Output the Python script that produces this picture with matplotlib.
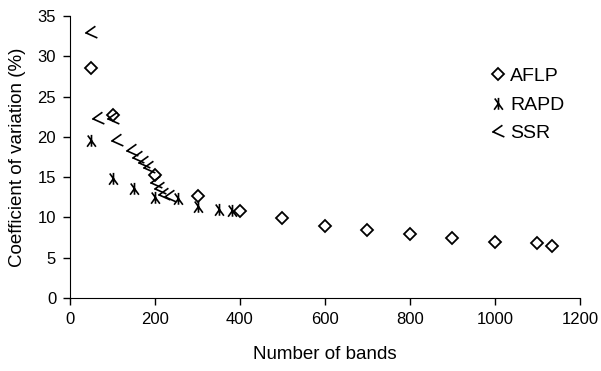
import matplotlib
matplotlib.use("Agg")
import matplotlib.pyplot as plt
from matplotlib.path import Path

plt.rcParams['font.family'] = ['Liberation Sans', 'DejaVu Sans']

# data
aflp_x = [50, 100, 200, 300, 400, 500, 600, 700, 800, 900, 1000, 1100, 1135]
aflp_y = [28.6, 22.7, 15.2, 12.7, 10.8, 9.9, 8.9, 8.4, 7.9, 7.4, 6.9, 6.8, 6.4]

rapd_x = [50, 100, 150, 200, 255, 300, 350, 380]
rapd_y = [19.6, 14.9, 13.7, 12.5, 12.4, 11.4, 11.0, 10.9]

ssr_x = [50, 65, 100, 110, 145, 160, 173, 185, 203, 212, 220, 235]
ssr_y = [33.0, 22.3, 22.3, 19.6, 18.3, 17.5, 16.9, 16.3, 14.4, 13.6, 12.9, 12.7]

# odd excel-looking markers
rapd_marker = Path([(-0.6, 0.8), (0.7, -1.0), (0, 0.9), (0, -1.0), (0, 0), (-0.7, -1.0)],
                   [Path.MOVETO, Path.LINETO, Path.MOVETO, Path.LINETO, Path.MOVETO, Path.LINETO])
ssr_marker = Path([(0.5, 0.8), (-0.7, -0.05), (-0.8, -0.1), (-0.7, -0.05), (0.75, -0.7)],
                  [Path.MOVETO, Path.LINETO, Path.LINETO, Path.MOVETO, Path.LINETO])

fig = plt.figure(figsize=(6.01, 3.71), dpi=100)
ax = fig.add_axes([0.1165, 0.197, 0.8485, 0.76])

ax.plot(aflp_x, aflp_y, linestyle='none', marker='D', markersize=6,
        markerfacecolor='none', markeredgecolor='black', markeredgewidth=1.3, label='AFLP')
ax.plot(rapd_x, rapd_y, linestyle='none', marker=rapd_marker, markersize=9,
        markerfacecolor='none', markeredgecolor='black', markeredgewidth=1.2, label='RAPD')
ax.plot(ssr_x, ssr_y, linestyle='none', marker=ssr_marker, markersize=9,
        markerfacecolor='none', markeredgecolor='black', markeredgewidth=1.2, label='SSR')

ax.set_xlim(0, 1200)
ax.set_ylim(0, 35)
ax.set_xticks(range(0, 1201, 200))
ax.set_yticks(range(0, 36, 5))
ax.spines['top'].set_visible(False)
ax.spines['right'].set_visible(False)
ax.tick_params(direction='out', length=5, width=1, labelsize=12, pad=5)

ax.set_xlabel('Number of bands', fontsize=13.5, labelpad=14)
ax.set_ylabel('Coefficient of variation (%)', fontsize=13.5, labelpad=8)

ax.legend(loc='center left', bbox_to_anchor=(0.81, 0.685), frameon=False,
          fontsize=14, handlelength=0.7, handletextpad=0.3, labelspacing=0.55,
          borderaxespad=0)

fig.savefig('out.png', dpi=100)
